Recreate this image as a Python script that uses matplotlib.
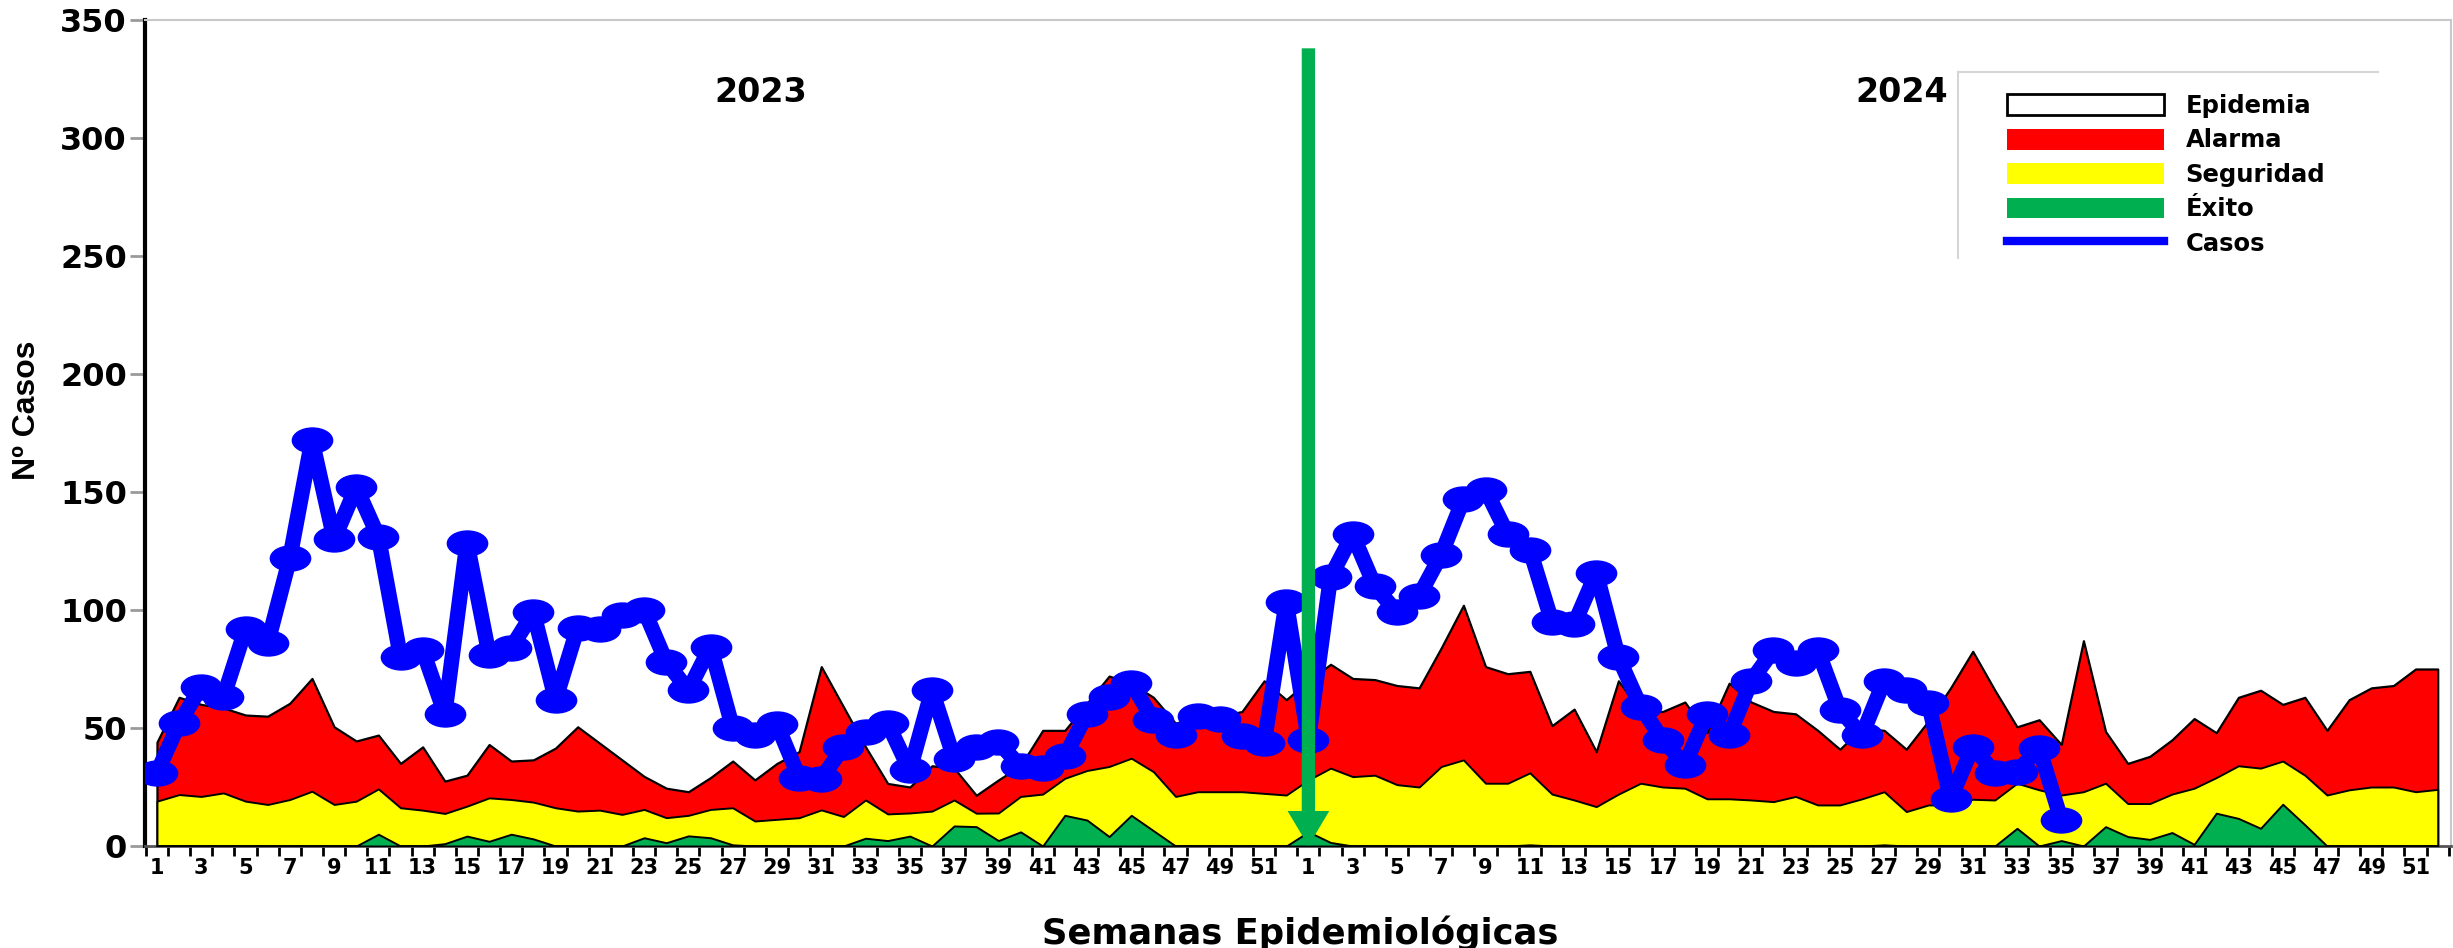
import matplotlib
matplotlib.use("Agg")
import matplotlib.pyplot as plt
import numpy as np
from matplotlib.patches import Patch
from matplotlib.lines import Line2D
from matplotlib.path import Path

# ---- data ----
# weeks of each year (2023 and 2024 both have 52 epidemiological weeks)
weeks_2023 = list(range(1, 53))
weeks_2024 = list(range(1, 53))

# upper limit of the Alarma zone (above it = Epidemia)
epidemia_2023 = [44, 63, 60, 58.5, 55.5, 55, 60.5, 71, 50.5, 44.5, 47, 35, 42, 27.5, 30, 43, 36,
                 36.5, 41.5, 50.5, 43.5, 36.5, 29.5, 24.5, 23, 29, 36, 28, 35, 40, 76, 59, 42,
                 26.5, 25, 34, 33, 21.5, 28, 34, 49, 49, 60.5, 72, 69, 63, 52, 55, 55, 57, 70, 62]
epidemia_2024 = [70, 77, 71, 70.5, 68, 67, 84, 102, 76, 73, 74, 51, 58, 40, 70, 57, 57, 61, 48,
                 69, 61, 57, 56, 49, 41, 50, 49, 41, 53, 67, 82.5, 66, 50.5, 53.5, 43, 87, 48.5,
                 35, 38, 45, 54, 48, 63, 66, 60, 63, 49, 62, 67, 68, 75, 75]

# upper limit of the Seguridad zone
seguridad_2023 = [19, 21.8, 21, 22.5, 19, 17.6, 19.7, 23.2, 17.6, 19, 24.2, 16.2, 15.2, 13.8, 16.9,
                  20.4, 19.7, 18.6, 16.2, 14.8, 15.2, 13.4, 15.5, 12, 13, 15.5, 16.2, 10.6, 11.3,
                  12, 15.3, 12.5, 19.5, 13.6, 14, 14.8, 19.5, 13.9, 14, 21, 22, 28.7, 32, 33.7,
                  37.2, 31.5, 21, 23, 23, 23, 22.3, 21.6]
seguridad_2024 = [28, 33, 29.4, 30, 26, 25, 33.7, 36.5, 26.6, 26.6, 31, 22, 19.5, 16.7, 22, 26.6,
                  25, 24.5, 20, 20, 19.5, 18.8, 21, 17.4, 17.4, 20, 23, 14.6, 17.4, 17.4, 19.8,
                  19.5, 26.6, 23.8, 21.6, 23, 26.6, 18, 18, 22, 24.5, 29, 34, 33, 36, 30, 21.6,
                  23.8, 25, 25, 23, 24]

# upper limit of the Exito zone
exito_2023 = [0, 0, 0, 0, 0, 0, 0, 0, 0, 0, 5, 0, 0, 1, 4.2, 2, 5, 3, 0, 0, 0, 0, 3.5, 1.4, 4.3,
              3.5, 0.5, 0, 0, 0, 0, 0, 3.3, 2.3, 4.2, 0, 8.5, 8.2, 2.3, 6, 0, 13, 11, 4, 13, 6.5,
              0, 0, 0, 0, 0, 0]
exito_2024 = [6, 1.5, 0, 0, 0, 0, 0, 0, 0, 0, 0.5, 0, 0, 0, 0, 0, 0, 0, 0, 0, 0, 0, 0, 0, 0, 0,
              0.5, 0, 0, 0, 0, 0, 7.5, 0, 2.3, 0, 8.2, 4, 2.8, 5.7, 0.7, 13.9, 11.7, 7.5, 17.7, 9,
              0, 0, 0, 0, 0, 0]

# weekly cases (2024 reported up to week 35)
casos_2023 = [31, 52, 67.5, 63, 92, 86, 122, 172, 130, 152, 131, 80, 83, 56, 128.5, 81, 84, 99, 62,
              92.5, 92, 98, 100, 78, 66, 84.5, 50, 47, 51.5, 29, 28.5, 42, 48.5, 52, 32, 66, 37,
              42, 44, 33.7, 33, 38, 56, 63, 69, 53.5, 47, 55, 54, 46.5, 43.6, 103.5]
casos_2024 = [45, 114, 132, 110, 99, 106, 123.5, 147, 151, 132, 125.6, 95, 94, 115.7, 80, 59, 45,
              34.5, 56, 47, 70, 83, 77.5, 83, 57.7, 47, 70, 66, 60.5, 20, 42, 31, 31.5, 41.4, 11]

year_labels = ["2023", "2024"]
ARROW_TOP = 338          # where the year-change arrow starts (case units)

RED = "#FF0000"
YELLOW = "#FFFF00"
GREEN = "#00B050"
BLUE = "#0000FF"

W, H = 2453, 948
fig = plt.figure(figsize=(W / 100, H / 100), dpi=100)
ax = fig.add_axes([145 / W, 1 - 846 / H, (2451 - 145) / W, (846 - 20) / H])

weeks = weeks_2023 + weeks_2024
x = np.arange(1, len(weeks) + 1)
epid = np.array(epidemia_2023 + epidemia_2024)
seg = np.array(seguridad_2023 + seguridad_2024)
exi = np.array(exito_2023 + exito_2024)
casos = np.array(casos_2023 + casos_2024)

ax.fill_between(x, 0, epid, facecolor=RED, edgecolor="black", lw=1.6, zorder=2)
ax.fill_between(x, 0, seg, facecolor=YELLOW, edgecolor="black", lw=1.4, zorder=3)
ax.fill_between(x, 0, exi, facecolor=GREEN, edgecolor="black", lw=1.4, zorder=4)

# stretched (elliptical) markers like the original
circ = Path.unit_circle()
ell = Path(circ.vertices * np.array([1.0, 0.62]), circ.codes)
ax.plot(x[:len(casos)], casos, color=BLUE, lw=11, marker=ell, ms=29, mfc=BLUE, mec=BLUE,
        solid_joinstyle="round", solid_capstyle="round", zorder=5)

# green arrow marking the change of year
x_new_year = len(weeks_2023) + 1
ax.annotate("", xy=(x_new_year, 0), xytext=(x_new_year, ARROW_TOP),
            arrowprops=dict(arrowstyle="simple,head_length=0.42,head_width=0.5,tail_width=0.16",
                            mutation_scale=60, fc=GREEN, ec="none", shrinkA=0, shrinkB=0),
            zorder=6)

ax.set_xlim(0.46, len(weeks) + 0.6)
ax.set_ylim(0, 350)
ax.set_yticks(np.arange(0, 351, 50))
ax.tick_params(axis="y", length=11, width=2, color="#9a9a9a", pad=2, labelsize=23)
for lab in ax.get_yticklabels():
    lab.set_fontweight("bold")

# ticks at week boundaries, labels at odd weeks
ax.set_xticks(np.arange(0.5, len(weeks) + 0.51, 1))
ax.set_xticklabels([])
ax.tick_params(axis="x", which="major", length=7, width=2, color="black")
lab_pos = [xi for xi, w in zip(x, weeks) if w % 2 == 1]
lab_txt = [str(w) for w in weeks if w % 2 == 1]
ax.set_xticks(lab_pos, minor=True)
ax.set_xticklabels(lab_txt, minor=True, fontsize=15, fontweight="bold")
ax.tick_params(axis="x", which="minor", length=0, pad=9)

ax.spines["left"].set_linewidth(3)
ax.spines["left"].set_color("black")
ax.spines["bottom"].set_linewidth(2)
ax.spines["bottom"].set_color("#555555")
for s in ("top", "right"):
    ax.spines[s].set_linewidth(1.5)
    ax.spines[s].set_color("#c8c8c8")

# year labels
ax.text(0.267, 0.912, year_labels[0], transform=ax.transAxes, ha="center", va="center",
        fontsize=24, fontweight="bold")
ax.text(0.762, 0.912, year_labels[1], transform=ax.transAxes, ha="center", va="center",
        fontsize=24, fontweight="bold")

fig.text(27 / W, 1 - 410 / H, "Nº Casos", rotation=90, ha="center", va="center",
         fontsize=23, fontweight="bold", family=["Liberation Sans Narrow", "Liberation Sans"])
fig.text(1300 / W, 1 - 944 / H, "Semanas Epidemiológicas", ha="center", va="baseline",
         fontsize=25.5, fontweight="bold")

# legend
handles = [Patch(facecolor="white", edgecolor="black", lw=2),
           Patch(facecolor=RED, edgecolor="none"),
           Patch(facecolor=YELLOW, edgecolor="none"),
           Patch(facecolor=GREEN, edgecolor="none"),
           Line2D([], [], color=BLUE, lw=6)]
labels = ["Epidemia", "Alarma", "Seguridad", "Éxito", "Casos"]
fig.legend(handles, labels, loc="upper left", bbox_to_anchor=(2007 / W, 1 - 94 / H),
           frameon=False, borderpad=0, borderaxespad=0, handlelength=6.45, handleheight=0.95,
           handletextpad=0.9, labelspacing=0.43, prop=dict(size=17.5, weight="bold"))
fig.add_artist(Line2D([1958 / W, 2378 / W], [1 - 72 / H, 1 - 72 / H], color="#d5d5d5", lw=1.5,
                      transform=fig.transFigure))
fig.add_artist(Line2D([1958 / W, 1958 / W], [1 - 72 / H, 1 - 258 / H], color="#d5d5d5", lw=1.5,
                      transform=fig.transFigure))

fig.savefig("out.png", dpi=100, facecolor="white")
